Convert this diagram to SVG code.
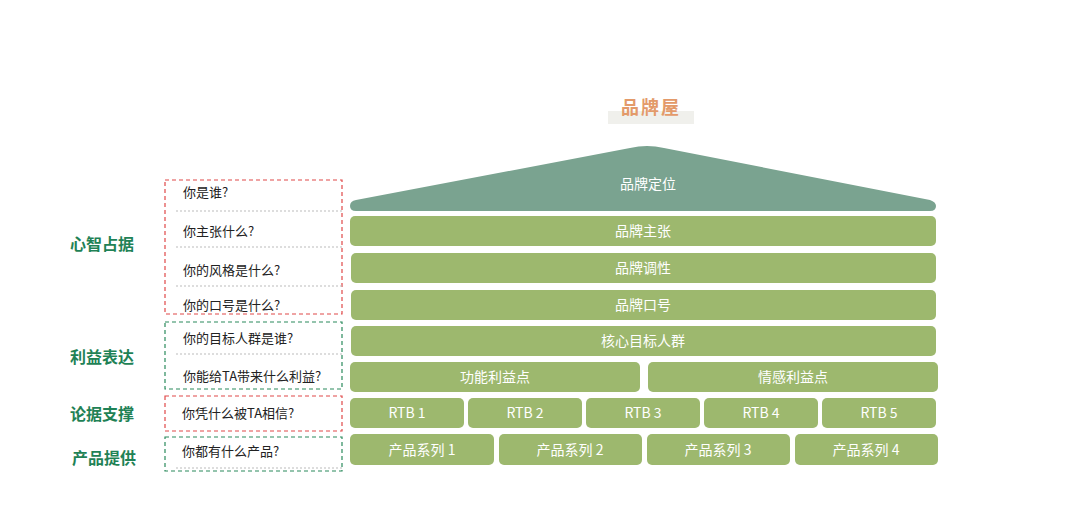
<svg xmlns="http://www.w3.org/2000/svg" width="1080" height="523" viewBox="0 0 1080 523">
<style>
text{font-family:"Noto Sans CJK SC","Noto Sans",sans-serif}
.b{fill:#9db86e}
.w{fill:#fff;font-size:14px;text-anchor:middle}
.q{fill:#222;font-size:13px}
.g{fill:#1f8256;font-size:16px;font-weight:bold;text-anchor:middle}
.rd{fill:none;stroke:#e04848;stroke-width:1.2;stroke-dasharray:4,3}
.gd{fill:none;stroke:#2a8a5c;stroke-width:1.2;stroke-dasharray:4,3}
.sep{stroke:#bbb;stroke-width:1;stroke-dasharray:2,2}
</style>
<rect width="1080" height="523" fill="#fff"/>
<g id="title"><rect x="608" y="111" width="86" height="13" fill="#f0f0ec"/><text x="651" y="114" fill="#e39a6a" font-size="18" font-weight="bold" text-anchor="middle" letter-spacing="2">品牌屋</text></g>
<g id="roof"><path d="M356,200 L630,148 Q647,144 664,148 L930,200 Q936,202 936,206 Q936,211 930,211 L356,211 Q350,211 350,206 Q350,201 356,200 Z" fill="#7aa390"/><text class="w" x="648" y="189">品牌定位</text></g>
<g id="r1"><rect class="b" x="350" y="216" width="586" height="30" rx="5"/><text class="w" x="643" y="236">品牌主张</text></g>
<g id="r2"><rect class="b" x="351" y="253" width="585" height="30" rx="5"/><text class="w" x="643" y="273">品牌调性</text></g>
<g id="r3"><rect class="b" x="351" y="290" width="585" height="30" rx="5"/><text class="w" x="643" y="310">品牌口号</text></g>
<g id="r4"><rect class="b" x="351" y="326" width="585" height="30" rx="5"/><text class="w" x="643" y="346">核心目标人群</text></g>
<g id="r5a"><rect class="b" x="350" y="362" width="290" height="30" rx="5"/><text class="w" x="495" y="382">功能利益点</text></g>
<g id="r5b"><rect class="b" x="648" y="362" width="290" height="30" rx="5"/><text class="w" x="793" y="382">情感利益点</text></g>
<g id="rtb">
<rect class="b" x="350" y="398" width="114" height="30" rx="5"/><text class="w" x="407" y="418">RTB 1</text>
<rect class="b" x="468" y="398" width="114" height="30" rx="5"/><text class="w" x="525" y="418">RTB 2</text>
<rect class="b" x="586" y="398" width="114" height="30" rx="5"/><text class="w" x="643" y="418">RTB 3</text>
<rect class="b" x="704" y="398" width="114" height="30" rx="5"/><text class="w" x="761" y="418">RTB 4</text>
<rect class="b" x="822" y="398" width="114" height="30" rx="5"/><text class="w" x="879" y="418">RTB 5</text>
</g>
<g id="prod">
<rect class="b" x="350" y="434" width="144" height="31" rx="5"/><text class="w" x="422" y="455">产品系列 1</text>
<rect class="b" x="499" y="434" width="143" height="31" rx="5"/><text class="w" x="570" y="455">产品系列 2</text>
<rect class="b" x="647" y="434" width="143" height="31" rx="5"/><text class="w" x="718" y="455">产品系列 3</text>
<rect class="b" x="795" y="434" width="143" height="31" rx="5"/><text class="w" x="866" y="455">产品系列 4</text>
</g>
<g id="left">
<rect class="rd" x="165" y="180" width="177" height="134"/>
<rect class="gd" x="165" y="322" width="177" height="67"/>
<rect class="rd" x="165" y="396" width="177" height="35"/>
<rect class="gd" x="165" y="437" width="177" height="34"/>
<line class="sep" x1="176" y1="211" x2="342" y2="211"/>
<line class="sep" x1="176" y1="247" x2="342" y2="247"/>
<line class="sep" x1="176" y1="286" x2="342" y2="286"/>
<line class="sep" x1="176" y1="354" x2="342" y2="354"/>
<line class="sep" x1="176" y1="468" x2="342" y2="468"/>
<text class="q" x="183" y="197">你是谁?</text>
<text class="q" x="183" y="236">你主张什么?</text>
<text class="q" x="183" y="275">你的风格是什么?</text>
<text class="q" x="183" y="310">你的口号是什么?</text>
<text class="q" x="183" y="343">你的目标人群是谁?</text>
<text class="q" x="183" y="381">你能给TA带来什么利益?</text>
<text class="q" x="182" y="418">你凭什么被TA相信?</text>
<text class="q" x="182" y="456">你都有什么产品?</text>
<text class="g" x="102" y="250">心智占据</text>
<text class="g" x="102" y="363">利益表达</text>
<text class="g" x="102" y="420">论据支撑</text>
<text class="g" x="104" y="464">产品提供</text>
</g>
</svg>
